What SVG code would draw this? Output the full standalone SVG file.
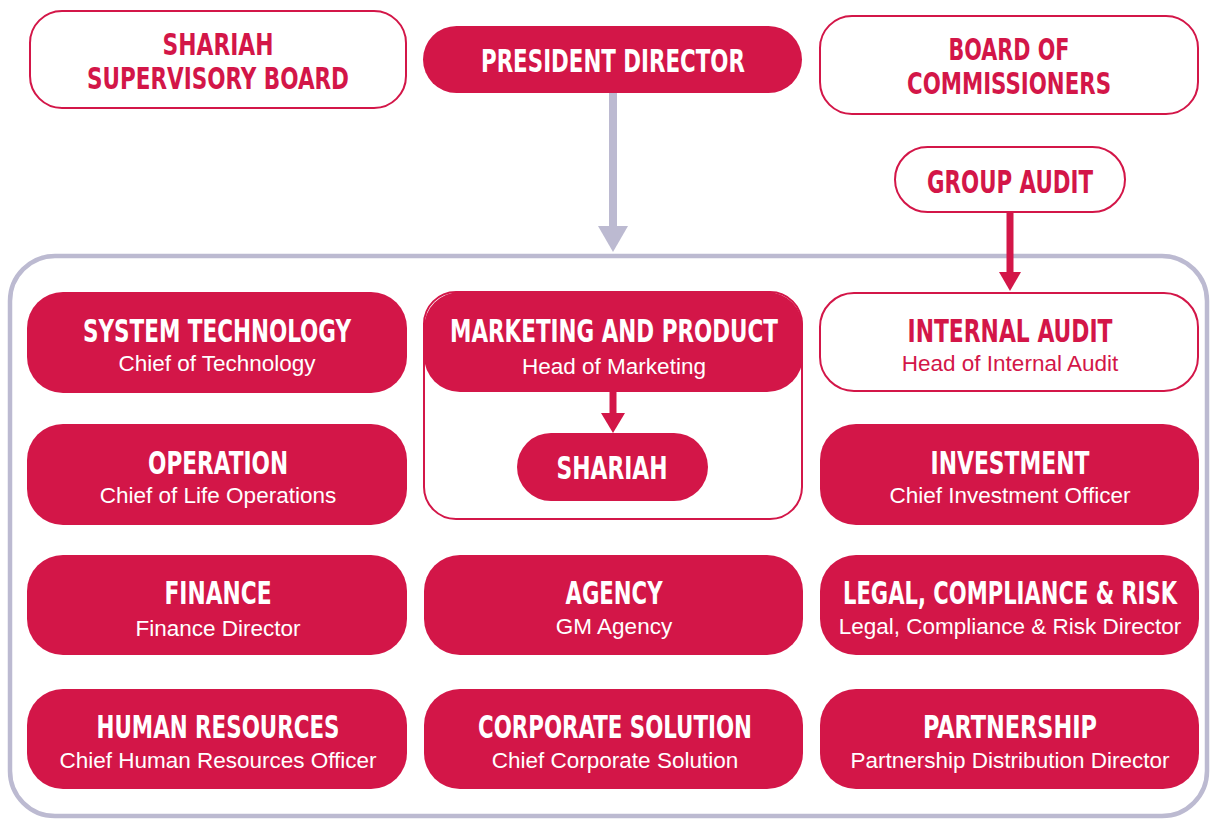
<svg xmlns="http://www.w3.org/2000/svg" width="1210" height="821" viewBox="0 0 1210 821">
<style>
.fill{fill:#d31648;}
.out{fill:#ffffff;stroke:#d31648;stroke-width:2;}
.t{font-family:"Liberation Sans Narrow","DejaVu Sans Condensed","Liberation Sans",sans-serif;font-weight:bold;font-size:32px;text-anchor:middle;}
.t2{font-size:30px;}
.s{font-family:"Liberation Sans","Noto Sans",sans-serif;font-size:22.5px;text-anchor:middle;}
.w{fill:#ffffff;}
.r{fill:#d31648;}
</style>
<rect x="0" y="0" width="1210" height="821" fill="#ffffff"/>
<g id="container">
<rect x="10" y="256" width="1197" height="560" rx="45" fill="none" stroke="#bcbad1" stroke-width="4.5"/>
</g>
<g id="connectors">
<line x1="613" y1="93" x2="613" y2="228" stroke="#bcbad1" stroke-width="8"/>
<polygon points="598,226 628,226 613,252" fill="#bcbad1"/>
<line x1="1010" y1="212" x2="1010" y2="275" stroke="#d31648" stroke-width="7"/>
<polygon points="999,272 1021,272 1010,291" fill="#d31648"/>
</g>
<g id="shariah-supervisory-board">
<rect class="out" x="30" y="11" width="376" height="97" rx="32"/>
<text class="t t2 r" x="218" y="55" textLength="111" lengthAdjust="spacingAndGlyphs">SHARIAH</text>
<text class="t t2 r" x="218" y="89" textLength="262" lengthAdjust="spacingAndGlyphs">SUPERVISORY BOARD</text>
</g>
<g id="president-director">
<rect class="fill" x="423" y="26" width="379" height="67" rx="33.5"/>
<text class="t w" x="613" y="72" textLength="264" lengthAdjust="spacingAndGlyphs">PRESIDENT DIRECTOR</text>
</g>
<g id="board-of-commissioners">
<rect class="out" x="820" y="16" width="378" height="98" rx="32"/>
<text class="t t2 r" x="1009" y="60" textLength="121" lengthAdjust="spacingAndGlyphs">BOARD OF</text>
<text class="t t2 r" x="1009" y="94" textLength="204" lengthAdjust="spacingAndGlyphs">COMMISSIONERS</text>
</g>
<g id="group-audit">
<rect class="out" x="895" y="147" width="230" height="65" rx="32.5"/>
<text class="t r" x="1010" y="193" textLength="166" lengthAdjust="spacingAndGlyphs">GROUP AUDIT</text>
</g>
<g id="system-technology">
<rect class="fill" x="27" y="292" width="380" height="101" rx="36"/>
<text class="t w" x="217" y="342" textLength="268" lengthAdjust="spacingAndGlyphs">SYSTEM TECHNOLOGY</text>
<text class="s w" x="217" y="371">Chief of Technology</text>
</g>
<g id="operation">
<rect class="fill" x="27" y="424" width="380" height="101" rx="36"/>
<text class="t w" x="218" y="474" textLength="140" lengthAdjust="spacingAndGlyphs">OPERATION</text>
<text class="s w" x="218" y="503">Chief of Life Operations</text>
</g>
<g id="finance">
<rect class="fill" x="27" y="555" width="380" height="100" rx="36"/>
<text class="t w" x="218" y="604" textLength="107" lengthAdjust="spacingAndGlyphs">FINANCE</text>
<text class="s w" x="218" y="636">Finance Director</text>
</g>
<g id="human-resources">
<rect class="fill" x="27" y="689" width="380" height="100" rx="36"/>
<text class="t w" x="218" y="738" textLength="243" lengthAdjust="spacingAndGlyphs">HUMAN RESOURCES</text>
<text class="s w" x="218" y="768">Chief Human Resources Officer</text>
</g>
<g id="marketing-group">
<rect class="out" x="424" y="292" width="378" height="227" rx="32"/>
</g>
<g id="marketing-and-product">
<rect class="fill" x="424" y="292" width="379" height="100" rx="36"/>
<text class="t w" x="614" y="342" textLength="328" lengthAdjust="spacingAndGlyphs">MARKETING AND PRODUCT</text>
<text class="s w" x="614" y="374">Head of Marketing</text>
</g>
<g id="marketing-arrow">
<line x1="613" y1="392" x2="613" y2="416" stroke="#d31648" stroke-width="7"/>
<polygon points="601,413 625,413 613,433" fill="#d31648"/>
</g>
<g id="shariah">
<rect class="fill" x="517" y="433" width="191" height="68" rx="34"/>
<text class="t w" x="612" y="479" textLength="111" lengthAdjust="spacingAndGlyphs">SHARIAH</text>
</g>
<g id="agency">
<rect class="fill" x="424" y="555" width="379" height="100" rx="36"/>
<text class="t w" x="614" y="604" textLength="97" lengthAdjust="spacingAndGlyphs">AGENCY</text>
<text class="s w" x="614" y="634">GM Agency</text>
</g>
<g id="corporate-solution">
<rect class="fill" x="424" y="689" width="379" height="100" rx="36"/>
<text class="t w" x="615" y="738" textLength="274" lengthAdjust="spacingAndGlyphs">CORPORATE SOLUTION</text>
<text class="s w" x="615" y="768">Chief Corporate Solution</text>
</g>
<g id="internal-audit">
<rect class="out" x="820" y="293" width="378" height="98" rx="34"/>
<text class="t r" x="1010" y="342" textLength="205" lengthAdjust="spacingAndGlyphs">INTERNAL AUDIT</text>
<text class="s r" x="1010" y="371">Head of Internal Audit</text>
</g>
<g id="investment">
<rect class="fill" x="820" y="424" width="379" height="101" rx="36"/>
<text class="t w" x="1010" y="474" textLength="159" lengthAdjust="spacingAndGlyphs">INVESTMENT</text>
<text class="s w" x="1010" y="503">Chief Investment Officer</text>
</g>
<g id="legal-compliance-risk">
<rect class="fill" x="820" y="555" width="379" height="100" rx="36"/>
<text class="t w" x="1010" y="604" textLength="334" lengthAdjust="spacingAndGlyphs">LEGAL, COMPLIANCE &amp; RISK</text>
<text class="s w" x="1010" y="634">Legal, Compliance &amp; Risk Director</text>
</g>
<g id="partnership">
<rect class="fill" x="820" y="689" width="379" height="100" rx="36"/>
<text class="t w" x="1010" y="738" textLength="174" lengthAdjust="spacingAndGlyphs">PARTNERSHIP</text>
<text class="s w" x="1010" y="768">Partnership Distribution Director</text>
</g>
</svg>
